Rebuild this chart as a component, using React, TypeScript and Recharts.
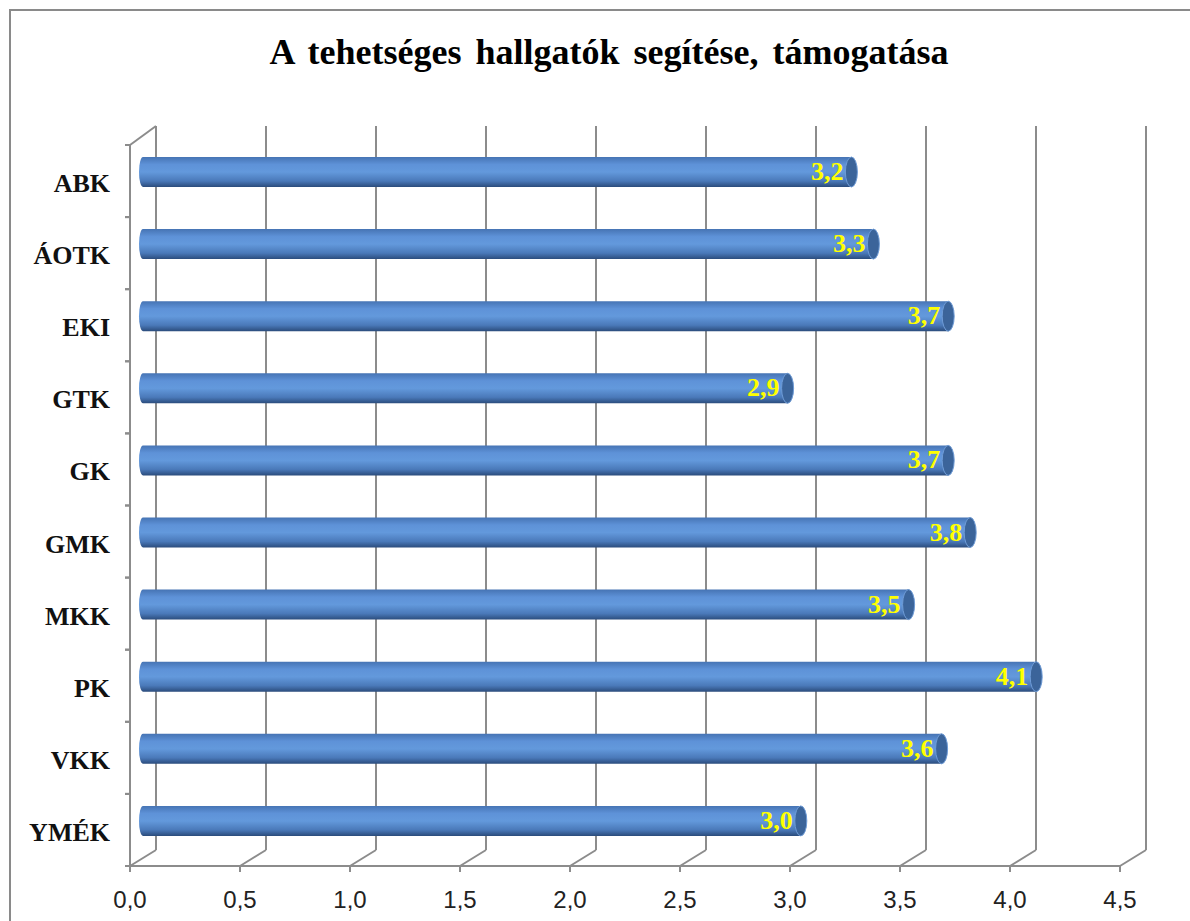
import { BarChart, Bar, XAxis, YAxis, CartesianGrid, LabelList } from 'recharts';

const categories = ['ABK', 'ÁOTK', 'EKI', 'GTK', 'GK', 'GMK', 'MKK', 'PK', 'VKK', 'YMÉK'];
const scores = [3.22, 3.32, 3.66, 2.93, 3.66, 3.76, 3.48, 4.06, 3.63, 2.99];
const xTicks = [0, 0.5, 1, 1.5, 2, 2.5, 3, 3.5, 4, 4.5];

const data = categories.map((name, i) => ({ name, value: scores[i] }));

const W = 1190;
const H = 921;
const PLOT_TOP = 145;
const PLOT_BOTTOM = 866;
const HALF_BAND = (PLOT_BOTTOM - PLOT_TOP) / categories.length / 2;

// fake 3D depth
const DEPTH_X = 26;
const BAR_DX = 13;
const BAR_DY = -9;
const GRID = '#8c8c8c';
const fmt = (v: number) => v.toFixed(1).replace('.', ',');

const gridLine = (props: any) => {
  const { x1, y1, y2, key } = props;
  const bx = x1 + DEPTH_X;
  const topBack = y1 - 19;
  const botBack = y2 - 16;
  const first = Math.abs(x1 - 130) < 1;
  return (
    <g key={key}>
      <line x1={bx} y1={topBack} x2={bx} y2={botBack} stroke={GRID} strokeWidth={2} />
      <line x1={x1} y1={y2} x2={bx} y2={botBack} stroke={GRID} strokeWidth={2} />
      {first && <line x1={x1} y1={y1} x2={bx} y2={topBack} stroke={GRID} strokeWidth={2} />}
    </g>
  );
};

const CategoryTick = (props: any) => {
  const { x, y, payload } = props;
  return (
    <g>
      <line x1={x + 15} y1={y - HALF_BAND} x2={x + 20} y2={y - HALF_BAND} stroke={GRID} strokeWidth={2} />
      <line x1={x + 15} y1={y + HALF_BAND} x2={x + 20} y2={y + HALF_BAND} stroke={GRID} strokeWidth={2} />
      <text
        x={x}
        y={y + 11}
        textAnchor="end"
        fontFamily="'Liberation Serif', 'Times New Roman', serif"
        fontWeight="bold"
        fontSize={26}
        fill="#111"
      >
        {payload.value}
      </text>
    </g>
  );
};

const Cylinder = (props: any) => {
  const { x, y, width, height } = props;
  const x0 = x + BAR_DX;
  const top = y + BAR_DY;
  const h = height;
  const ry = h / 2;
  const rx = 6;
  const x1 = x0 + width;
  const d = `M ${x0} ${top} L ${x1} ${top} L ${x1} ${top + h} L ${x0} ${top + h} A 4 ${ry} 0 0 1 ${x0} ${top} Z`;
  return (
    <g>
      <path d={d} fill="url(#cylGrad)" />
      <ellipse cx={x1} cy={top + ry} rx={rx} ry={ry} fill="#3b649a" stroke="#6e9bd6" strokeWidth={1} />
    </g>
  );
};

const ValueLabel = (props: any) => {
  const { x, y, width, height, value } = props;
  return (
    <text
      x={x + BAR_DX + width - 8}
      y={y + BAR_DY + height / 2 + 8}
      textAnchor="end"
      fontFamily="'Liberation Serif', 'Times New Roman', serif"
      fontWeight="bold"
      fontSize={26}
      fill="#ffff00"
    >
      {fmt(value)}
    </text>
  );
};

export default function App() {
  return (
    <div style={{ position: 'absolute', left: 0, top: 0, width: W, height: H, overflow: 'hidden', background: '#fff' }}>
      <div
        style={{
          position: 'absolute',
          left: 9,
          top: 9,
          width: 1220,
          height: 960,
          border: '2px solid #8a8a8a',
          boxSizing: 'border-box',
        }}
      />
      <div
        style={{
          position: 'absolute',
          left: 0,
          width: 1218,
          top: 30,
          textAlign: 'center',
          fontFamily: "'Liberation Serif', 'Times New Roman', serif",
          fontWeight: 'bold',
          fontSize: 36,
          lineHeight: '44px',
          color: '#000',
          wordSpacing: 5,
        }}
      >
        A tehetséges hallgatók segítése, támogatása
      </div>
      <div style={{ position: 'absolute', left: 0, top: 0 }}>
        <svg width={0} height={0} style={{ position: 'absolute' }}>
          <defs>
            <linearGradient id="cylGrad" x1="0" y1="0" x2="0" y2="1">
              <stop offset="0%" stopColor="#4674b4" />
              <stop offset="25%" stopColor="#5e92d8" />
              <stop offset="50%" stopColor="#6399dc" />
              <stop offset="80%" stopColor="#4a79b9" />
              <stop offset="100%" stopColor="#2b4c7c" />
            </linearGradient>
          </defs>
        </svg>
        <BarChart
          width={W}
          height={H}
          data={data}
          layout="vertical"
          margin={{ top: PLOT_TOP, right: 70, bottom: 5, left: 10 }}
          barSize={30}
        >
          <CartesianGrid horizontal={false} vertical={gridLine} />
          <XAxis
            type="number"
            domain={[0, 4.5]}
            ticks={xTicks}
            tickFormatter={fmt}
            height={50}
            axisLine={{ stroke: GRID, strokeWidth: 2 }}
            tickLine={{ stroke: GRID, strokeWidth: 2 }}
            tickSize={6}
            tickMargin={19}
            tick={{ fontFamily: "'Liberation Sans', Arial, sans-serif", fontSize: 24, fill: '#222' }}
          />
          <YAxis
            type="category"
            dataKey="name"
            width={120}
            axisLine={{ stroke: GRID, strokeWidth: 2 }}
            tickLine={false}
            tickSize={0}
            tickMargin={20}
            tick={<CategoryTick />}
          />
          <Bar dataKey="value" shape={<Cylinder />} isAnimationActive={false}>
            <LabelList dataKey="value" content={<ValueLabel />} />
          </Bar>
        </BarChart>
      </div>
    </div>
  );
}
